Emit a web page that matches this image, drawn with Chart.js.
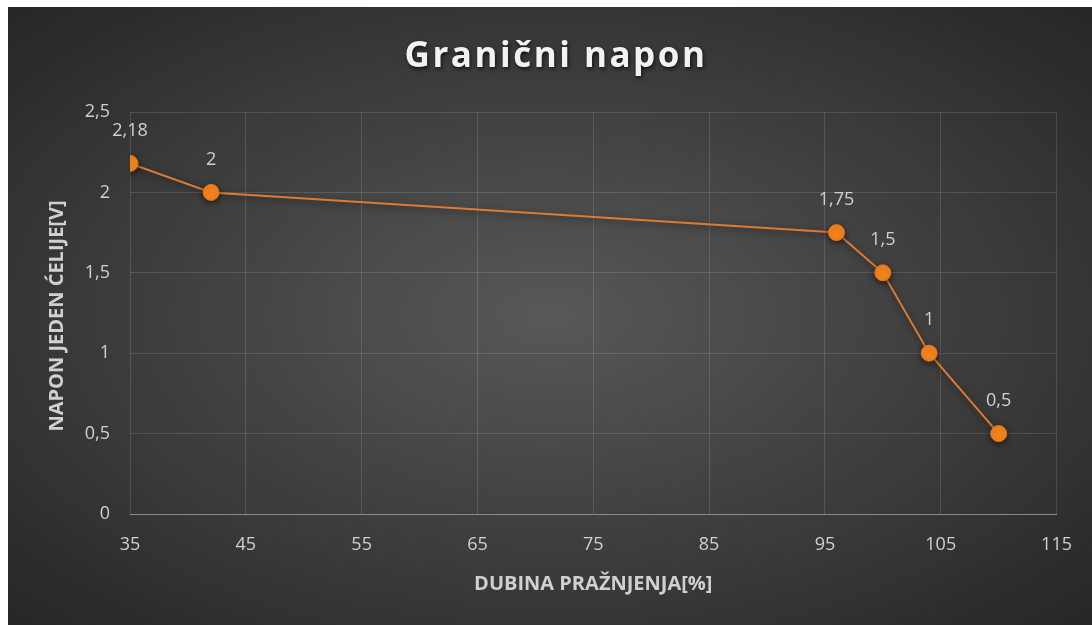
<!DOCTYPE html>
<html>
<head>
<meta charset="utf-8">
<script src="https://cdn.jsdelivr.net/npm/chart.js@4.4.1/dist/chart.umd.min.js"></script>
<style>
    html, body { margin: 0; padding: 0; background: #ffffff; }
    #okvir {
        position: absolute; left: 8px; top: 7px; width: 1084px; height: 618px;
        background: radial-gradient(ellipse at 50% 50%, #585858 0%, #3a3a3a 60%, #262626 100%);
    }
</style>
</head>
<body>
<div id="okvir"><canvas id="grafikNapon"></canvas></div>
<script>
const dubina = [35, 42, 96, 100, 104, 110];
const napon = [2.18, 2, 1.75, 1.5, 1, 0.5];
const naslov = 'Granični napon';
const naslovX = 'DUBINA PRAŽNJENJA[%]';
const naslovY = 'NAPON JEDEN ĆELIJE[V]';

function zarez(v) {
    return String(v).replace('.', ',');
}

// sjena ispod linije i tocaka
const sjena = {
    id: 'sjena',
    beforeDatasetsDraw(chart) {
        chart.ctx.save();
        chart.ctx.shadowColor = 'rgba(0,0,0,0.55)';
        chart.ctx.shadowBlur = 7;
        chart.ctx.shadowOffsetY = 2;
    },
    afterDatasetsDraw(chart) {
        chart.ctx.restore();
    }
};

// vrijednosti iznad tocaka
const oznake = {
    id: 'oznake',
    afterDatasetsDraw(chart) {
        const ctx = chart.ctx;
        const meta = chart.getDatasetMeta(0);
        ctx.save();
        ctx.font = '18px "Open Sans"';
        ctx.fillStyle = '#d0d0d0';
        ctx.textAlign = 'center';
        ctx.textBaseline = 'middle';
        meta.data.forEach((tocka, i) => {
            ctx.fillText(zarez(napon[i]), tocka.x, tocka.y - 33);
        });
        ctx.restore();
    }
};

// naslov s razmakom slova i sjenom
const glavniNaslov = {
    id: 'glavniNaslov',
    afterDraw(chart) {
        const ctx = chart.ctx;
        ctx.save();
        ctx.font = 'bold 35px "Open Sans"';
        ctx.letterSpacing = '2.5px';
        ctx.fillStyle = '#f2f2f2';
        ctx.textAlign = 'center';
        ctx.textBaseline = 'alphabetic';
        ctx.shadowColor = 'rgba(0,0,0,0.7)';
        ctx.shadowBlur = 4;
        ctx.shadowOffsetX = 1;
        ctx.shadowOffsetY = 2;
        ctx.fillText(naslov, 548, 60);
        ctx.restore();
    }
};

// naslov osi Y, okomito uz lijevi rub
const naslovOsiY = {
    id: 'naslovOsiY',
    afterDraw(chart) {
        const ctx = chart.ctx;
        const area = chart.chartArea;
        ctx.save();
        ctx.translate(49, (area.top + area.bottom) / 2 + 3);
        ctx.rotate(-Math.PI / 2);
        ctx.font = 'bold 20px "Open Sans"';
        ctx.fillStyle = '#d0d0d0';
        ctx.textAlign = 'center';
        ctx.textBaseline = 'middle';
        ctx.fillText(naslovY, 0, 0);
        ctx.restore();
    }
};

const grafikNapon = new Chart(document.getElementById('grafikNapon'), {
    type: 'scatter',
    data: {
        datasets: [{
            data: dubina.map((d, i) => ({ x: d, y: napon[i] })),
            showLine: true,
            borderColor: '#dc7a30',
            borderWidth: 2,
            pointRadius: 8,
            pointBackgroundColor: '#f7871f',
            pointBorderColor: '#e8741a',
            pointBorderWidth: 1
        }]
    },
    options: {
        responsive: true,
        maintainAspectRatio: false,
        animation: false,
        layout: { padding: { left: 0, right: 35, top: 105, bottom: 0 } },
        plugins: {
            legend: { display: false },
            tooltip: { enabled: false },
            title: { display: false }
        },
        scales: {
            x: {
                type: 'linear',
                min: 35,
                max: 115,
                afterFit(scale) { scale.height = 111; },
                ticks: {
                    stepSize: 10,
                    color: '#d0d0d0',
                    font: { family: 'Open Sans', size: 18 },
                    padding: 20
                },
                grid: { color: 'rgba(255,255,255,0.13)', drawTicks: false },
                border: { color: '#8a8a8a', width: 1 },
                title: {
                    display: true,
                    text: naslovX,
                    color: '#d0d0d0',
                    font: { family: 'Open Sans', size: 20, weight: 'bold' },
                    padding: { top: 0, bottom: 29 }
                }
            },
            y: {
                min: 0,
                max: 2.5,
                afterFit(scale) { scale.width = 122; },
                ticks: {
                    stepSize: 0.5,
                    color: '#d0d0d0',
                    font: { family: 'Open Sans', size: 18 },
                    padding: 20,
                    callback: v => zarez(v)
                },
                grid: { color: 'rgba(255,255,255,0.13)', drawTicks: false },
                border: { display: false },
                title: { display: false }
            }
        }
    },
    plugins: [sjena, oznake, glavniNaslov, naslovOsiY]
});
</script>
</body>
</html>
